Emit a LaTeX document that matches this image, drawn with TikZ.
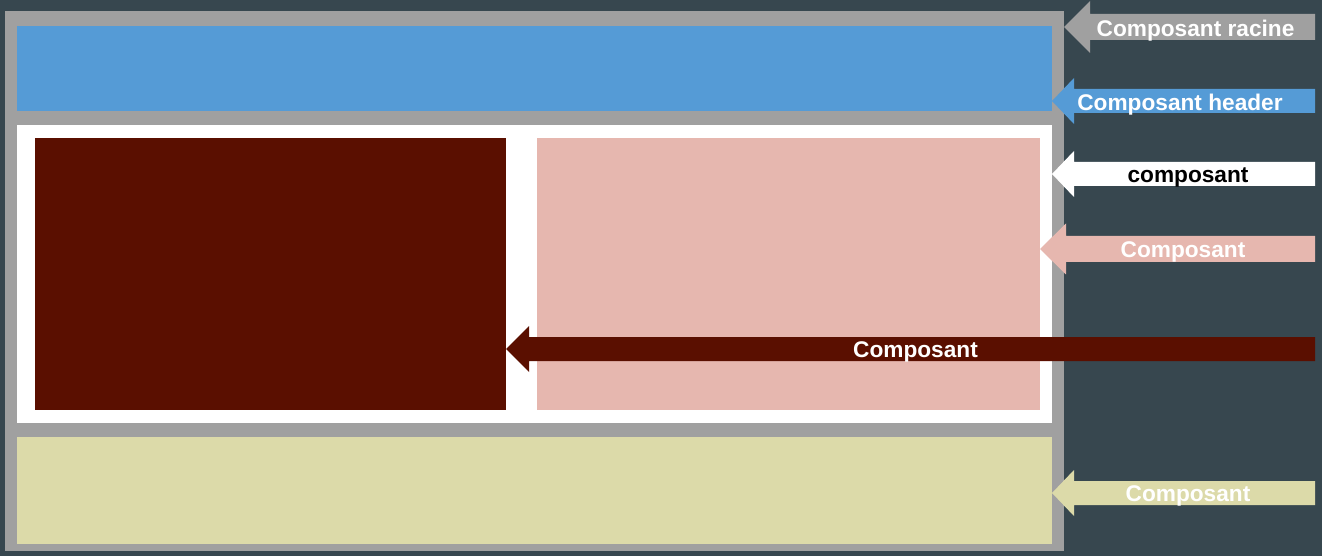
\documentclass[tikz,border=0pt]{standalone}
\usepackage{fontspec}
\setmainfont{Liberation Sans}
\definecolor{bgc}{RGB}{55,71,79}
\definecolor{grayc}{RGB}{160,160,160}
\definecolor{bluec}{RGB}{85,155,214}
\definecolor{darkc}{RGB}{90,15,0}
\definecolor{pinkc}{RGB}{230,183,175}
\definecolor{yelc}{RGB}{220,218,169}
\begin{document}
\begin{tikzpicture}[x=0.75pt,y=-0.75pt,
  box/.style={inner sep=0pt,outer sep=0pt},
  lbl/.style={font=\bfseries\fontsize{17}{20}\selectfont,inner sep=0pt,anchor=center}]
\fill[bgc] (0,0) rectangle (1322,556);
\useasboundingbox (0,0) rectangle (1322,556);
% boxes
\fill[grayc] (5,11) rectangle (1064,551);
\fill[bluec] (17,26) rectangle (1052,111);
\fill[white] (17,125) rectangle (1052,423);
\fill[darkc] (35,138) rectangle (506,410);
\fill[pinkc] (537,138) rectangle (1040,410);
\fill[yelc] (17,437) rectangle (1052,544);
% arrows: #1 tip x, #2 y, #3 head back x, #4 head half, #5 shaft half
\newcommand{\myarrow}[6]{\fill[#6] (#1,#2) -- (#3,#2-#4) -- (#3,#2-#5) -- (1315,#2-#5) -- (1315,#2+#5) -- (#3,#2+#5) -- (#3,#2+#4) -- cycle;}
\myarrow{1064}{27}{1090}{26}{13}{grayc}
\myarrow{1052}{101}{1074}{23}{12}{bluec}
\myarrow{1052}{174}{1074}{23}{12}{white}
\myarrow{1040}{249}{1066}{25.5}{13}{pinkc}
\myarrow{506}{349}{529}{23}{12}{darkc}
\myarrow{1052}{493}{1074}{23}{12}{yelc}
\node[lbl,text=white] (t1) at (1195.5,31) {Composant racine};
\node[lbl,text=white] (t2) at (1180,105) {Composant header};
\node[lbl,text=black] (t3) at (1188,177) {composant};
\node[lbl,text=white] (t4) at (1183,252) {Composant};
\node[lbl,text=white] (t5) at (915.5,352) {Composant};
\node[lbl,text=white] (t6) at (1188,496) {Composant};
\end{tikzpicture}
\end{document}
